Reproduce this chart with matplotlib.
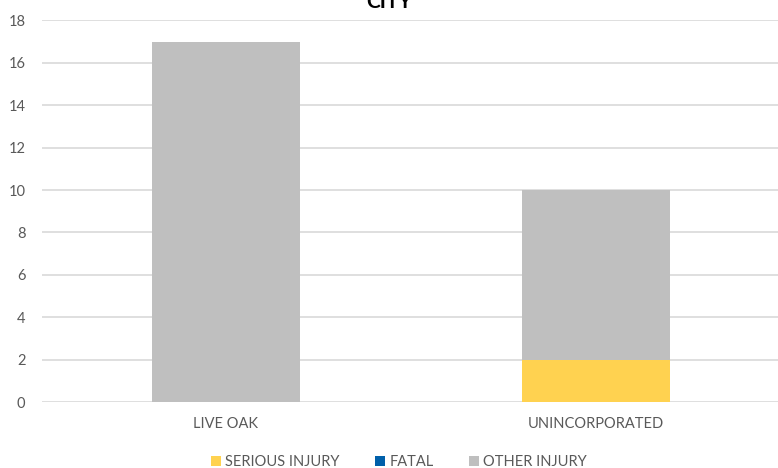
import matplotlib.pyplot as plt
import numpy as np

cities = ["LIVE OAK", "UNINCORPORATED"]
serious = [0, 2]
fatal = [0, 0]
other = [17, 8]

plt.rcParams['font.family'] = ['Lato', 'DejaVu Sans']

fig = plt.figure(figsize=(7.78, 4.68), dpi=100)
ax = fig.add_axes([42 / 778, 66 / 468, 736 / 778, (402 - 20.4) / 468])

x = np.arange(len(cities))
serious = np.array(serious)
fatal = np.array(fatal)
other = np.array(other)

ax.bar(x, serious, 0.4, color='#FFD250', label='SERIOUS INJURY', zorder=3)
ax.bar(x, fatal, 0.4, bottom=serious, color='#0060AA', label='FATAL', zorder=3)
ax.bar(x, other, 0.4, bottom=serious + fatal, color='#BFBFBF', label='OTHER INJURY', zorder=3)

ax.set_xlim(-0.497, 1.492)
ax.set_ylim(0, 18)
ax.set_yticks(range(0, 19, 2))
ax.set_xticks(x)
ax.set_xticklabels(cities)
ax.grid(axis='y', color='#D9D9D9', linewidth=1.2, zorder=0)
ax.tick_params(length=0, labelsize=10.5, colors='#595959')
ax.tick_params(axis='x', pad=11)
ax.tick_params(axis='y', pad=12)
for s in ax.spines.values():
    s.set_visible(False)

# title is partly cut off at the top, as in the original
fig.text(0.5, 1 - 8 / 468, 'CITY', ha='center', va='baseline', fontsize=15,
         fontweight='bold', color='black')

fig.legend(loc='center', bbox_to_anchor=(399 / 778, 1 - 462 / 468), ncol=3,
           frameon=False, fontsize=10.5, handlelength=0.7, handleheight=0.7,
           handletextpad=0.3, columnspacing=2.4, labelcolor='#595959')

fig.savefig('out.png', dpi=100)
